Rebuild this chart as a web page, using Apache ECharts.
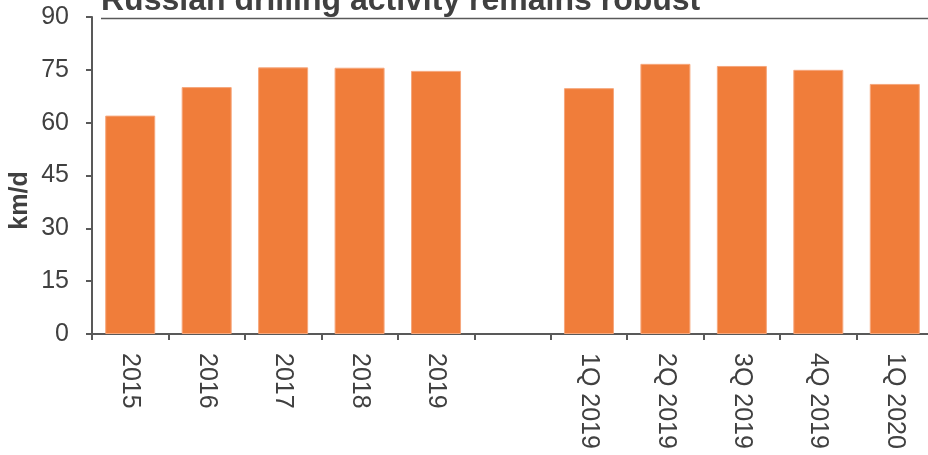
<!DOCTYPE html>
<html>
<head>
<meta charset="utf-8">
<script src="https://cdn.jsdelivr.net/npm/echarts@6/dist/echarts.min.js"></script>
<style>html,body{margin:0;padding:0;background:#fff}#c{width:928px;height:455px}</style>
</head>
<body>
<div id="c"></div>
<script>
const categories = ['2015','2016','2017','2018','2019','','1Q 2019','2Q 2019','3Q 2019','4Q 2019','1Q 2020'];
const values = [62.0, 70.1, 75.7, 75.6, 74.7, null, 69.8, 76.7, 76.1, 75.0, 71.0];
const yTicks = { min: 0, max: 90, interval: 15 };
const titleText = 'Russian drilling activity remains robust';
const yName = 'km/d';

const chart = echarts.init(document.getElementById('c'), null, { renderer: 'canvas' });
const axisColor = '#595959';
const textColor = '#404040';
chart.setOption({
  animation: false,
  title: {
    text: titleText,
    left: 96,
    top: -20,
    textStyle: { fontFamily: 'Liberation Sans', fontWeight: 'bold', fontSize: 32, color: textColor }
  },
  graphic: [{
    type: 'line',
    shape: { x1: 101, y1: 18.5, x2: 928, y2: 18.5 },
    style: { stroke: axisColor, lineWidth: 1.5 }
  }],
  grid: { left: 92, top: 17, bottom: 121, right: -5, containLabel: false, outerBoundsMode: 'none' },
  xAxis: {
    type: 'category',
    data: categories,
    axisLine: { lineStyle: { color: axisColor, width: 2 } },
    axisTick: { show: true, length: 6, lineStyle: { color: axisColor, width: 2 }, alignWithLabel: false },
    axisLabel: {
      rotate: -90, margin: 19, interval: 0,
      fontFamily: 'Liberation Sans', fontSize: 25, color: textColor
    }
  },
  yAxis: {
    type: 'value',
    min: yTicks.min, max: yTicks.max, interval: yTicks.interval,
    name: yName,
    nameLocation: 'middle',
    nameGap: 59,
    nameMoveOverlap: false,
    nameTextStyle: { fontFamily: 'Liberation Sans', fontWeight: 'bold', fontSize: 25, color: textColor, padding: [0, 50, 0, 0] },
    axisLine: { show: true, lineStyle: { color: axisColor, width: 2 } },
    axisTick: { show: true, length: 6, lineStyle: { color: axisColor, width: 2 } },
    splitLine: { show: false },
    axisLabel: { margin: 23, fontFamily: 'Liberation Sans', fontSize: 25, color: textColor }
  },
  series: [{
    type: 'bar',
    data: values,
    barWidth: 50,
    itemStyle: { color: '#F07D3A', borderColor: '#F6A77C', borderWidth: 1 }
  }]
});
</script>
</body>
</html>
